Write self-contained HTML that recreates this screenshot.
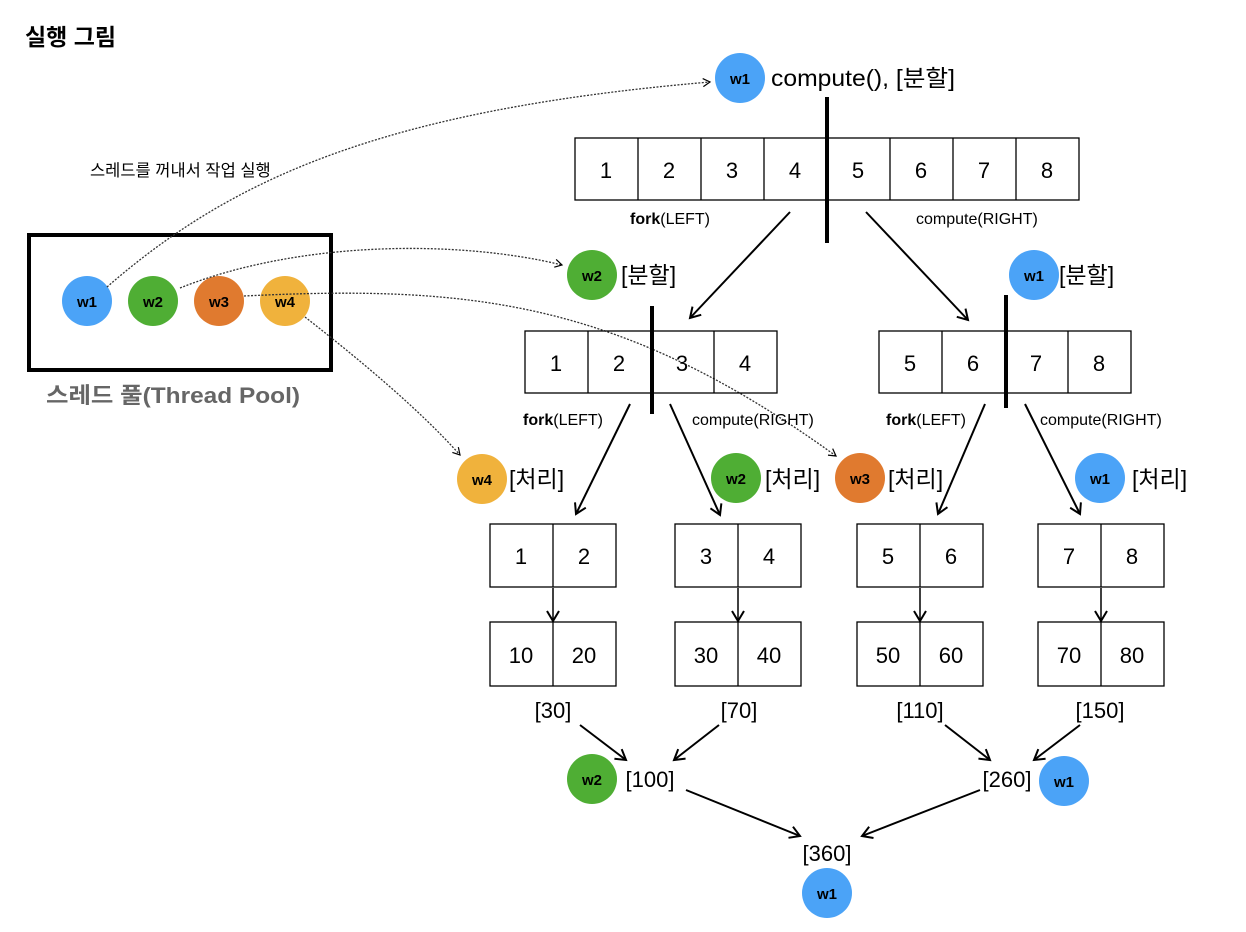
<!DOCTYPE html>
<html><head><meta charset="utf-8"><style>
html,body{margin:0;padding:0;background:#fff;}
svg{display:block;font-family:"Liberation Sans","Noto Sans CJK KR",sans-serif;}
</style></head><body>
<svg width="1246" height="932" viewBox="0 0 1246 932" xmlns="http://www.w3.org/2000/svg">
<defs>
<marker id="a" markerWidth="14" markerHeight="14" refX="11" refY="7" orient="auto" markerUnits="userSpaceOnUse">
<path d="M1,1 L11,7 L1,13" fill="none" stroke="#000" stroke-width="2"/></marker>
<marker id="d" markerWidth="10" markerHeight="10" refX="8" refY="5" orient="auto" markerUnits="userSpaceOnUse">
<path d="M1,1 L8,5 L1,9" fill="none" stroke="#000" stroke-width="1.2"/></marker>
</defs>
<text x="25" y="45" font-size="23" font-weight="bold">실행 그림</text>
<text x="90" y="176" font-size="16.5">스레드를 꺼내서 작업 실행</text>

<!-- pool -->
<rect x="29" y="235" width="302" height="135" fill="none" stroke="#000" stroke-width="4"/>
<g font-size="15" font-weight="bold" text-anchor="middle">
<circle cx="87" cy="301" r="25" fill="#4ba3f7"/><text x="87" y="307">w1</text>
<circle cx="153" cy="301" r="25" fill="#4fae34"/><text x="153" y="307">w2</text>
<circle cx="219" cy="301" r="25" fill="#e07a2f"/><text x="219" y="307">w3</text>
<circle cx="285" cy="301" r="25" fill="#f0b23c"/><text x="285" y="307">w4</text>
</g>
<text x="46" y="403" font-size="22" font-weight="bold" fill="#666" textLength="254" lengthAdjust="spacingAndGlyphs">스레드 풀(Thread Pool)</text>

<!-- dotted -->
<g fill="none" stroke="#333" stroke-width="1.3" stroke-dasharray="2,1.5">
<path d="M107,287 C230,180 380,110 710,82" marker-end="url(#d)"/>
<path d="M180,288 C300,240 460,240 562,265" marker-end="url(#d)"/>
<path d="M244,296 C470,285 620,300 836,456" marker-end="url(#d)"/>
<path d="M305,317 C360,360 420,410 460,455" marker-end="url(#d)"/>
</g>

<g font-size="15" font-weight="bold" text-anchor="middle">
<circle cx="740" cy="78" r="25" fill="#4ba3f7"/><text x="740" y="84">w1</text>
<circle cx="592" cy="275" r="25" fill="#4fae34"/><text x="592" y="281">w2</text>
<circle cx="1034" cy="275" r="25" fill="#4ba3f7"/><text x="1034" y="281">w1</text>
<circle cx="482" cy="479" r="25" fill="#f0b23c"/><text x="482" y="485">w4</text>
<circle cx="736" cy="478" r="25" fill="#4fae34"/><text x="736" y="484">w2</text>
<circle cx="860" cy="478" r="25" fill="#e07a2f"/><text x="860" y="484">w3</text>
<circle cx="1100" cy="478" r="25" fill="#4ba3f7"/><text x="1100" y="484">w1</text>
<circle cx="592" cy="779" r="25" fill="#4fae34"/><text x="592" y="785">w2</text>
<circle cx="1064" cy="781" r="25" fill="#4ba3f7"/><text x="1064" y="787">w1</text>
<circle cx="827" cy="893" r="25" fill="#4ba3f7"/><text x="827" y="899">w1</text>
</g>
<g font-size="23">
<text x="771" y="86" textLength="184" lengthAdjust="spacingAndGlyphs">compute(), [분할]</text>
<text x="621" y="283">[분할]</text>
<text x="1059" y="283">[분할]</text>
<text x="509" y="487">[처리]</text>
<text x="765" y="487">[처리]</text>
<text x="888" y="487">[처리]</text>
<text x="1132" y="487">[처리]</text>
</g>

<!-- arrays -->
<g fill="none" stroke="#000" stroke-width="1.3">
<rect x="575" y="138" width="504" height="62"/>
<path d="M638,138V200M701,138V200M764,138V200M827,138V200M890,138V200M953,138V200M1016,138V200"/>
<rect x="525" y="331" width="252" height="62"/>
<path d="M588,331V393M651,331V393M714,331V393"/>
<rect x="879" y="331" width="252" height="62"/>
<path d="M942,331V393M1005,331V393M1068,331V393"/>
<rect x="490" y="524" width="126" height="63"/><path d="M553,524V587"/>
<rect x="675" y="524" width="126" height="63"/><path d="M738,524V587"/>
<rect x="857" y="524" width="126" height="63"/><path d="M920,524V587"/>
<rect x="1038" y="524" width="126" height="63"/><path d="M1101,524V587"/>
<rect x="490" y="622" width="126" height="64"/><path d="M553,622V686"/>
<rect x="675" y="622" width="126" height="64"/><path d="M738,622V686"/>
<rect x="857" y="622" width="126" height="64"/><path d="M920,622V686"/>
<rect x="1038" y="622" width="126" height="64"/><path d="M1101,622V686"/>
</g>
<g stroke="#000" stroke-width="4">
<path d="M827,97V243M652,306V414M1006,295V408"/>
</g>
<g font-size="22" text-anchor="middle">
<text x="606" y="178">1</text><text x="669" y="178">2</text><text x="732" y="178">3</text><text x="795" y="178">4</text>
<text x="858" y="178">5</text><text x="921" y="178">6</text><text x="984" y="178">7</text><text x="1047" y="178">8</text>
<text x="556" y="371">1</text><text x="619" y="371">2</text><text x="682" y="371">3</text><text x="745" y="371">4</text>
<text x="910" y="371">5</text><text x="973" y="371">6</text><text x="1036" y="371">7</text><text x="1099" y="371">8</text>
<text x="521" y="564">1</text><text x="584" y="564">2</text>
<text x="706" y="564">3</text><text x="769" y="564">4</text>
<text x="888" y="564">5</text><text x="951" y="564">6</text>
<text x="1069" y="564">7</text><text x="1132" y="564">8</text>
<text x="521" y="663">10</text><text x="584" y="663">20</text>
<text x="706" y="663">30</text><text x="769" y="663">40</text>
<text x="888" y="663">50</text><text x="951" y="663">60</text>
<text x="1069" y="663">70</text><text x="1132" y="663">80</text>
<text x="553" y="718">[30]</text><text x="739" y="718">[70]</text>
<text x="920" y="718">[110]</text><text x="1100" y="718">[150]</text>
<text x="650" y="787">[100]</text><text x="1007" y="787">[260]</text>
<text x="827" y="861">[360]</text>
</g>
<g font-size="16">
<text x="630" y="224"><tspan font-weight="bold">fork</tspan>(LEFT)</text>
<text x="916" y="224">compute(RIGHT)</text>
<text x="523" y="425"><tspan font-weight="bold">fork</tspan>(LEFT)</text>
<text x="692" y="425">compute(RIGHT)</text>
<text x="886" y="425"><tspan font-weight="bold">fork</tspan>(LEFT)</text>
<text x="1040" y="425">compute(RIGHT)</text>
</g>

<!-- arrows -->
<g stroke="#000" stroke-width="2" fill="none" marker-end="url(#a)">
<path d="M790,212L690,318"/>
<path d="M866,212L968,320"/>
<path d="M630,404L576,514"/>
<path d="M670,404L720,515"/>
<path d="M985,404L938,514"/>
<path d="M1025,404L1080,514"/>
<path d="M553,588V621" stroke-width="1.5"/>
<path d="M738,588V621" stroke-width="1.5"/>
<path d="M920,588V621" stroke-width="1.5"/>
<path d="M1101,588V621" stroke-width="1.5"/>
<path d="M580,725L626,760"/>
<path d="M719,725L674,760"/>
<path d="M945,725L990,760"/>
<path d="M1080,725L1034,760"/>
<path d="M686,790L800,836"/>
<path d="M980,790L862,836"/>
</g>
</svg>
</body></html>
